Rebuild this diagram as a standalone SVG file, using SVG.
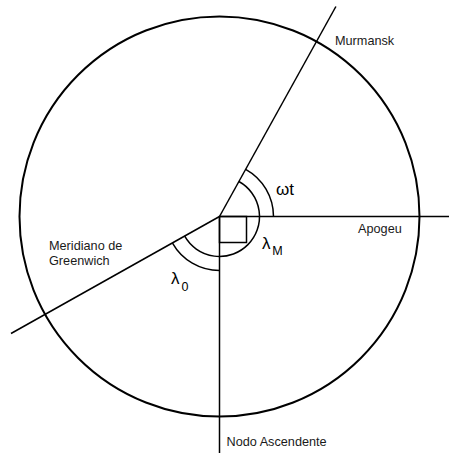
<svg xmlns="http://www.w3.org/2000/svg" width="449" height="453" viewBox="0 0 449 453">
<style>
.ln{fill:none;stroke:#000;stroke-width:1.5}
.cir{fill:none;stroke:#000;stroke-width:2}
.lbl{font-family:"Liberation Sans",Arial,sans-serif;font-size:12.7px;fill:#1a1a1a}
.gr{font-family:"Liberation Sans",Arial,sans-serif;font-size:17px;fill:#000}
.sub{font-family:"Liberation Sans",Arial,sans-serif;font-size:12.5px;fill:#000}
</style>
<rect width="449" height="453" fill="#fff"/>
<g id="orbit"><circle class="cir" cx="219.5" cy="216.5" r="200"/></g>
<g id="connectors">
<line class="ln" x1="219.5" y1="216.5" x2="449" y2="216.5"/>
<line class="ln" x1="219.5" y1="216.5" x2="219.5" y2="453"/>
<line class="ln" x1="219.5" y1="216.5" x2="335.9" y2="6.5"/>
<line class="ln" x1="219.5" y1="216.5" x2="11" y2="333.5"/>
<rect class="ln" x="219.5" y="216.5" width="27" height="26"/>
<path class="ln" d="M238.9,181.5 A40,40 0 1 1 184.7,236.2"/>
<path class="ln" d="M245.7,169.3 A54,54 0 0 1 273.5,216.5"/>
<path class="ln" d="M219.5,270.5 A54,54 0 0 1 172.5,243.1"/>
</g>
<g id="murmansk"><text class="lbl" x="335" y="45">Murmansk</text></g>
<g id="apogeu"><text class="lbl" x="358" y="233">Apogeu</text></g>
<g id="greenwich"><text class="lbl" x="49" y="250">Meridiano de</text><text class="lbl" x="49" y="265">Greenwich</text></g>
<g id="nodo"><text class="lbl" x="226.5" y="445.5">Nodo Ascendente</text></g>
<g id="wt"><text class="gr" x="276" y="195">ωt</text></g>
<g id="lambdaM"><text class="gr" x="262" y="249">λ</text><text class="sub" x="272.3" y="255">M</text></g>
<g id="lambda0"><text class="gr" x="171" y="284">λ</text><text class="sub" x="181.5" y="290.5">0</text></g>
</svg>
